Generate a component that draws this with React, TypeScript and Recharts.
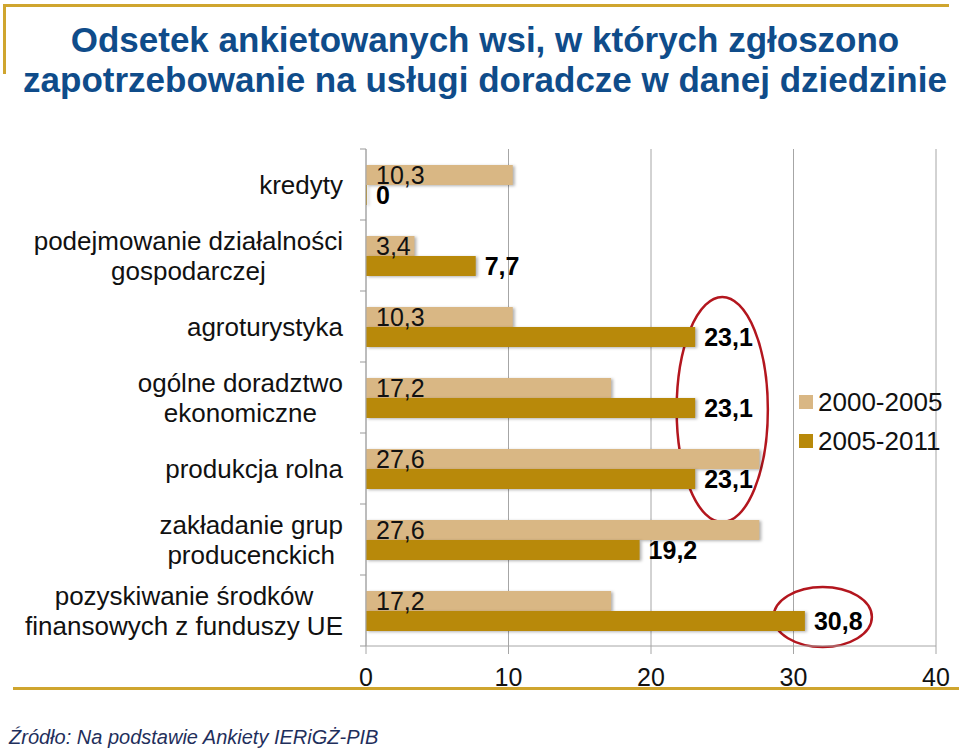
import React from 'react'
import { BarChart, Bar, XAxis, YAxis, CartesianGrid, LabelList, ReferenceArea } from 'recharts'

const categories = [
  'kredyty',
  'podejmowanie działalności\ngospodarczej',
  'agroturystyka',
  'ogólne doradztwo\nekonomiczne',
  'produkcja rolna',
  'zakładanie grup\nproducenckich',
  'pozyskiwanie środków\nfinansowych z funduszy UE',
]
const series2000_2005 = [10.3, 3.4, 10.3, 17.2, 27.6, 27.6, 17.2]
const series2005_2011 = [0, 7.7, 23.1, 23.1, 23.1, 19.2, 30.8]
const xTicks = [0, 10, 20, 30, 40]

const seriesNames = ['2000-2005', '2005-2011']
const colors = ['#D9B784', '#B8890A']

const FONT = "'Liberation Sans', Arial, sans-serif"

const data = categories.map((name, i) => ({
  name,
  a: series2000_2005[i],
  b: series2005_2011[i],
}))

const fmt = (v: any) => String(v).replace('.', ',')

let ctx: CanvasRenderingContext2D | null = null
function textWidth(s: string, size: number) {
  if (!ctx) ctx = document.createElement('canvas').getContext('2d')
  if (!ctx) return s.length * size * 0.5
  ctx.font = `${size}px ${FONT}`
  return ctx.measureText(s).width
}

function CategoryTick(props: any) {
  const { x, y, payload } = props
  const lines: string[] = String(payload.value).split('\n')
  const size = 26
  const maxW = Math.max(...lines.map((l) => textWidth(l, size)))
  const cx = x - maxW / 2
  const lh = 30
  const axisX = x + 23
  const half = payload.offset || 35.5
  return (
    <g>
      <line x1={axisX} x2={axisX - 6} y1={y - half} y2={y - half} stroke="#999" />
      {payload.index === categories.length - 1 && (
        <line x1={axisX} x2={axisX - 6} y1={y + half} y2={y + half} stroke="#999" />
      )}
      {lines.map((l, i) => (
        <text
          key={i}
          x={cx}
          y={y - ((lines.length - 1) * lh) / 2 + i * lh}
          textAnchor="middle"
          dominantBaseline="central"
          fontSize={size}
          fontFamily={FONT}
          fill="#111"
        >
          {l}
        </text>
      ))}
    </g>
  )
}

// red ellipses drawn around the highlighted labels
const ellipse = (dy: number, dry: number) => (p: any) => (
  <ellipse
    cx={p.x + p.width / 2}
    cy={p.y + p.height / 2 + dy}
    rx={p.width / 2}
    ry={p.height / 2 + dry}
    fill="none"
    stroke="#B3161E"
    strokeWidth={2.5}
  />
)

export default function App() {
  return (
    <div style={{ position: 'absolute', left: 0, top: 0, width: 959, height: 752, background: '#fff', fontFamily: FONT }}>
      <style>{`.recharts-bar-rectangle path { filter: drop-shadow(2px 1px 1.5px rgba(0,0,0,0.3)); }`}</style>
      {/* slide frame */}
      <div style={{ position: 'absolute', left: 4, top: 4, width: 945, height: 3, background: '#CFA52E' }} />
      <div style={{ position: 'absolute', left: 3, top: 4, width: 3, height: 70, background: '#CFA52E' }} />
      <div style={{ position: 'absolute', left: 13, top: 687, width: 946, height: 3, background: '#CFA52E' }} />

      <div
        style={{
          position: 'absolute',
          left: 11,
          top: 20,
          width: 948,
          textAlign: 'center',
          color: '#0F4C8A',
          fontWeight: 'bold',
          fontSize: 35,
          lineHeight: '40px',
        }}
      >
        Odsetek ankietowanych wsi, w których zgłoszono
        <br />
        zapotrzebowanie na usługi doradcze w danej dziedzinie
      </div>

      <div style={{ position: 'absolute', left: 0, top: 0 }}>
        <BarChart
          width={959}
          height={700}
          data={data}
          layout="vertical"
          margin={{ top: 149, right: 23, left: 0, bottom: 4 }}
          barSize={20}
          barGap={0}
        >
          <CartesianGrid horizontal={false} stroke="#A6A6A6" />
          <XAxis
            type="number"
            domain={[0, 40]}
            ticks={xTicks}
            interval={0}
            height={50}
            tickSize={8}
            tickMargin={14}
            stroke="#A6A6A6"
            tick={{ fontSize: 25, fill: '#111', fontFamily: FONT }}
          />
          <YAxis
            type="category"
            dataKey="name"
            width={366}
            tickSize={6}
            tickMargin={17}
            tickLine={false}
            stroke="#A6A6A6"
            interval={0}
            tick={<CategoryTick />}
          />
          <Bar dataKey="a" name={seriesNames[0]} fill={colors[0]} isAnimationActive={false}>
            <LabelList
              dataKey="a"
              position="insideLeft"
              offset={10}
              formatter={fmt}
              style={{ fontSize: 25, fill: '#111', fontFamily: FONT }}
            />
          </Bar>
          <Bar dataKey="b" name={seriesNames[1]} fill={colors[1]} minPointSize={1} isAnimationActive={false}>
            <LabelList
              dataKey="b"
              position="right"
              offset={9}
              formatter={fmt}
              style={{ fontSize: 25, fill: '#000', fontWeight: 'bold', fontFamily: FONT }}
            />
          </Bar>
          <ReferenceArea
            x1={21.8}
            x2={28.2}
            y1={categories[2]}
            y2={categories[4]}
            shape={ellipse(12, 6)}
          />
          <ReferenceArea
            x1={28.6}
            x2={35.5}
            y1={categories[6]}
            y2={categories[6]}
            shape={ellipse(6.5, -5.5)}
          />
        </BarChart>
      </div>

      <div style={{ position: 'absolute', left: 799, top: 386 }}>
        {seriesNames.map((n, i) => (
          <div key={n} style={{ display: 'flex', alignItems: 'center', height: 32, marginBottom: 7 }}>
            <span style={{ width: 14, height: 14, background: colors[i], display: 'inline-block', marginRight: 5 }} />
            <span style={{ fontSize: 26, color: '#111' }}>{n}</span>
          </div>
        ))}
      </div>

      <div
        style={{
          position: 'absolute',
          left: 9,
          top: 726,
          fontSize: 20,
          fontStyle: 'italic',
          color: '#1F2F5C',
        }}
      >
        Źródło: Na podstawie Ankiety IERiGŻ-PIB
      </div>
    </div>
  )
}
